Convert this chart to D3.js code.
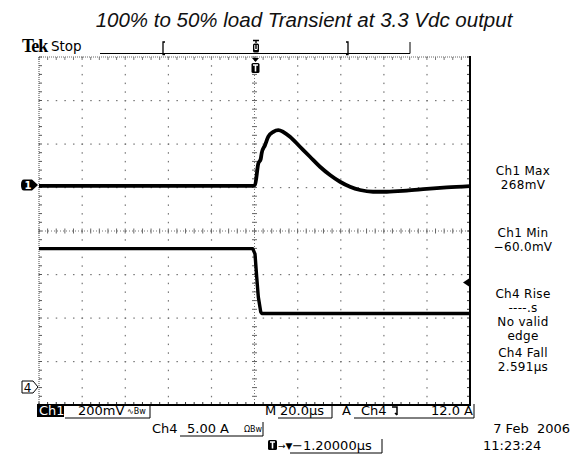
<!DOCTYPE html>
<html><head><meta charset="utf-8">
<script src="https://cdn.jsdelivr.net/npm/d3@7"></script>
<style>body{margin:0;background:#fff}svg{display:block}</style>
</head><body><svg id="c" width="571" height="457"></svg>
<script>
// ---- data ----
const title = "100% to 50% load Transient at 3.3 Vdc output";
// Ch1 : output voltage deviation (mV) vs time (µs, relative to screen centre)
const ch1Time = [-100, -60, -20, -1, 0.23, 1.76, 2.88, 3.34, 4.87, 6.4, 8.72, 11.04, 13.36, 16.47, 21.11, 25.75, 30.39, 35.03, 39.68, 44.32, 48.96, 55.0, 61.35, 70.6, 79.9, 89.2, 100];
const ch1mV   = [-4, -4, -4, -4, 0, 99, 119, 147, 183, 222, 244, 252, 244, 222, 176, 130, 84, 46, 15, -8, -23, -31, -31, -26, -18, -11, -5];
// Ch4 : load current (A) vs time (µs)
const ch4Time = [-100, -50, -0.84, 0.23, 1.02, 1.76, 2.88, 3.34, 50, 100];
const ch4Amp  = [15.9, 15.9, 15.9, 15.3, 12.65, 10.36, 8.64, 8.45, 8.45, 8.45];
const ch1Ground = 0, ch4Ground = 0, trigLevelA = 12.0;
const measureLabels = ["Ch1 Max","268mV","Ch1 Min","\u221260.0mV","Ch4 Rise","----.s","No valid","edge","Ch4 Fall","2.591\u00b5s"];
const bottomRow1 = {ch:"Ch1", scale:"200mV", time:"20.0\u00b5s", trig:"A  Ch4", lvl:"12.0 A"};
const bottomRow2 = {ch:"Ch4", scale:"5.00 A"};
const trigPos = "\u22121.20000\u00b5s";
const dateStr = "7 Feb  2006", timeStr = "11:23:24";

// ---- layout ----
const svg = d3.select("#c");
const X0 = 39, X1 = 470, Y0 = 57, Y1 = 405;
const DIV = (Y1 - Y0) / 8;
const x = d3.scaleLinear().domain([-100, 100]).range([X0, X1]);
const yd = d3.scaleLinear().domain([4, -4]).range([Y0, Y1]);           // divisions
const y1 = d3.scaleLinear().domain([0, 200]).range([185, 185 - DIV]);  // Ch1 200mV/div
const y4 = d3.scaleLinear().domain([0, 5]).range([387, 387 - DIV]);    // Ch4 5A/div
const FONT = "DejaVu Sans, sans-serif";

svg.append("rect").attr("width",571).attr("height",457).attr("fill","#fff");

// title
svg.append("text").attr("x",304).attr("y",27).attr("text-anchor","middle")
  .attr("font-family","Liberation Sans, Arial, sans-serif").attr("font-style","italic")
  .attr("font-size",20.5).attr("fill","#111").text(title);

// ---- graticule ----
const g = svg.append("g");
const minorT = d3.range(-100, 100.01, 4);
const minorD = d3.range(-4, 4.001, 0.2);
d3.range(-80, 81, 20).filter(t => t !== 0).forEach(t => {
  g.selectAll(null).data(minorD).join("rect")
    .attr("x", x(t) - 0.5).attr("y", d => yd(d) - 0.5).attr("width",1.2).attr("height",1.5).attr("fill","#777");
});
d3.range(-3, 3.01, 1).filter(d => d !== 0).forEach(dv => {
  g.selectAll(null).data(minorT).join("rect")
    .attr("x", t => x(t) - 0.5).attr("y", yd(dv) - 0.5).attr("width",1.5).attr("height",1.2).attr("fill","#777");
});
g.append("line").attr("x1",X0).attr("x2",X1).attr("y1",yd(0)).attr("y2",yd(0))
  .attr("stroke","#777").attr("stroke-dasharray","1,2");
g.selectAll(null).data(minorT).join("line")
  .attr("x1", t => x(t)).attr("x2", t => x(t)).attr("y1", yd(0) - 2.5).attr("y2", yd(0) + 2.5).attr("stroke","#666");
g.append("line").attr("x1",x(0)).attr("x2",x(0)).attr("y1",Y0).attr("y2",Y1)
  .attr("stroke","#777").attr("stroke-dasharray","1,2");
g.selectAll(null).data(minorD).join("line")
  .attr("y1", d => yd(d)).attr("y2", d => yd(d)).attr("x1", x(0) - 2.5).attr("x2", x(0) + 2.5).attr("stroke","#666");
g.append("line").attr("x1",X0).attr("x2",X1).attr("y1",Y0).attr("y2",Y0)
  .attr("stroke","#666").attr("stroke-dasharray","1,1");
g.selectAll(null).data(minorT).join("line")
  .attr("x1", t => x(t)).attr("x2", t => x(t)).attr("y1", Y0).attr("y2", Y0 + 3).attr("stroke","#777");
g.append("line").attr("x1",X0).attr("x2",X0).attr("y1",Y0).attr("y2",Y1)
  .attr("stroke","#444").attr("stroke-dasharray","1,1");
g.selectAll(null).data(minorD).join("line")
  .attr("y1", d => yd(d)).attr("y2", d => yd(d)).attr("x1", X0).attr("x2", X0 + 3).attr("stroke","#555");
g.selectAll(null).data(minorT).join("line")
  .attr("x1", t => x(t)).attr("x2", t => x(t)).attr("y1", Y1).attr("y2", Y1 - 3).attr("stroke","#333");
g.selectAll(null).data(minorD).join("line")
  .attr("y1", d => yd(d)).attr("y2", d => yd(d)).attr("x1", X1).attr("x2", X1 - 3).attr("stroke","#333");
g.append("line").attr("x1",X0).attr("x2",X1 + 1).attr("y1",Y1).attr("y2",Y1).attr("stroke","#000").attr("stroke-width",2);
g.append("line").attr("x1",X1).attr("x2",X1).attr("y1",Y0 - 1).attr("y2",Y1 + 1).attr("stroke","#000").attr("stroke-width",2);

// ---- traces ----
const line1 = d3.line().x((d,i) => x(ch1Time[i])).y(d => y1(d)).curve(d3.curveMonotoneX);
svg.append("path").attr("d", line1(ch1mV)).attr("fill","none").attr("stroke","#000")
  .attr("stroke-width",3.8).attr("stroke-linejoin","round");
const line4 = d3.line().x((d,i) => x(ch4Time[i])).y(d => y4(d));
svg.append("path").attr("d", line4(ch4Amp)).attr("fill","none").attr("stroke","#000")
  .attr("stroke-width",3.4).attr("stroke-linejoin","round");

// ---- markers ----
const m1y = y1(ch1Ground);
svg.append("path").attr("d", `M24,${m1y-5.5} H32 L38,${m1y} L32,${m1y+5.5} H24 Q21,${m1y+5.5} 21,${m1y} Q21,${m1y-5.5} 24,${m1y-5.5} Z`).attr("fill","#000");
svg.append("text").attr("x",28).attr("y",m1y+4).attr("text-anchor","middle").attr("font-family",FONT)
  .attr("font-weight","bold").attr("font-size",10).attr("fill","#fff").text("1");
const m4y = y4(ch4Ground);
svg.append("path").attr("d", `M22,${m4y-6} H33 L38,${m4y} L33,${m4y+6} H22 Z`).attr("fill","#fff").attr("stroke","#000").attr("stroke-width",1);
svg.append("text").attr("x",27.5).attr("y",m4y+4.5).attr("text-anchor","middle").attr("font-family",FONT)
  .attr("font-size",12).attr("fill","#000").text("4");
const tly = y4(trigLevelA);
svg.append("path").attr("d", `M463,${tly} L469,${tly-4} L469,${tly+4} Z`).attr("fill","#000");
const tx = x(0) + 1;
svg.append("path").attr("d", `M${tx-3.5},${Y0+1} H${tx+3.5} L${tx},${Y0+5} Z`).attr("fill","#000");
svg.append("rect").attr("x",tx-4).attr("y",Y0+6).attr("width",8).attr("height",10).attr("rx",1.5).attr("fill","#000");
svg.append("path").attr("d", `M${tx-2.5},${Y0+8} H${tx+2.5} M${tx},${Y0+8} V${Y0+14.5}`).attr("stroke","#fff").attr("stroke-width",1.6);

// ---- header: Tek Stop & record bar ----
svg.append("text").attr("x",22).attr("y",51.5).attr("font-family","Liberation Serif, serif").attr("font-weight","bold")
  .attr("font-size",18).attr("letter-spacing",-1).attr("fill","#000").text("Tek");
svg.append("text").attr("x",51).attr("y",51).attr("font-family",FONT)
  .attr("font-size",13.5).attr("fill","#000").text("Stop");
const barY = 53.5;
svg.append("path").attr("d", `M100,${barY} H410 V42`).attr("fill","none").attr("stroke","#000").attr("stroke-width",1);
svg.append("path").attr("d", `M165,42 H163 V${barY+1} H165`).attr("fill","none").attr("stroke","#000").attr("stroke-width",1.3);
svg.append("path").attr("d", `M346,42 H348 V${barY+1} H346`).attr("fill","none").attr("stroke","#000").attr("stroke-width",1.3);
svg.append("path").attr("d", `M253,40.5 H259 M256,40.5 V43`).attr("stroke","#000").attr("stroke-width",1.4);
svg.append("rect").attr("x",253).attr("y",43.5).attr("width",6).attr("height",9).attr("rx",1.5).attr("fill","#000");
svg.append("path").attr("d", `M254.8,45 V49.5 H257.2 V45`).attr("fill","none").attr("stroke","#fff").attr("stroke-width",1);

// ---- right-hand measurements ----
const measY = [170, 184, 232, 246, 293, 307, 321, 335, 352, 366];
svg.selectAll(null).data(measureLabels).join("text")
  .attr("x",523).attr("y",(d,i) => measY[i] + 4.5).attr("text-anchor","middle")
  .attr("font-family",FONT).attr("font-size",12).attr("letter-spacing",0.3).attr("fill","#000").text(d => d);

// ---- bottom status lines ----
const r1 = 415, r2 = 429, r3 = 450;
svg.append("rect").attr("x",37).attr("y",r1-11).attr("width",27).attr("height",13).attr("fill","#000");
svg.append("text").attr("x",39).attr("y",r1).attr("font-family",FONT).attr("font-size",13).attr("fill","#fff").text(bottomRow1.ch);
svg.append("text").attr("x",78).attr("y",r1).attr("font-family",FONT).attr("font-size",13).text(bottomRow1.scale);
svg.append("text").attr("x",127).attr("y",r1-1).attr("font-family",FONT).attr("font-size",8).text("\u223fBw");
svg.append("path").attr("d",`M65,${r1+3} H150 V${r1-11}`).attr("fill","none").attr("stroke","#000");
svg.append("text").attr("x",265).attr("y",r1).attr("font-family",FONT).attr("font-size",13).text("M");
svg.append("text").attr("x",280).attr("y",r1).attr("font-family",FONT).attr("font-size",13).text(bottomRow1.time);
svg.append("path").attr("d",`M278,${r1+3} H332 V${r1-11}`).attr("fill","none").attr("stroke","#000");
svg.append("text").attr("x",342).attr("y",r1).attr("font-family",FONT).attr("font-size",13).text("A");
svg.append("text").attr("x",361).attr("y",r1).attr("font-family",FONT).attr("font-size",13).text("Ch4");
svg.append("path").attr("d",`M392,${r1-8} H397 V${r1} M397,${r1} l-2,-2`).attr("fill","none").attr("stroke","#000").attr("stroke-width",1.5);
svg.append("text").attr("x",473).attr("y",r1).attr("text-anchor","end").attr("font-family",FONT).attr("font-size",13).text(bottomRow1.lvl);
svg.append("path").attr("d",`M354,${r1+3} H474 V${r1-11}`).attr("fill","none").attr("stroke","#000");

svg.append("text").attr("x",152).attr("y",r2+4).attr("font-family",FONT).attr("font-size",13).text(bottomRow2.ch);
svg.append("text").attr("x",187).attr("y",r2+4).attr("font-family",FONT).attr("font-size",13).text(bottomRow2.scale);
svg.append("text").attr("x",244).attr("y",r2+3).attr("font-family",FONT).attr("font-size",8).text("\u03a9Bw");
svg.append("path").attr("d",`M180,${r2+7} H263 V${r2-7}`).attr("fill","none").attr("stroke","#000");

svg.append("rect").attr("x",268).attr("y",r3-10).attr("width",9).attr("height",10).attr("rx",1.5).attr("fill","#000");
svg.append("path").attr("d",`M270,${r3-8} H275 M272.5,${r3-8} V${r3-1.5}`).attr("stroke","#fff").attr("stroke-width",1.6);
svg.append("text").attr("x",278).attr("y",r3-1).attr("font-family",FONT).attr("font-size",9).text("\u2192\u25bc");
svg.append("text").attr("x",292).attr("y",r3).attr("font-family",FONT).attr("font-size",13).text(trigPos);
svg.append("path").attr("d",`M290,${r3+3} H382 V${r3-11}`).attr("fill","none").attr("stroke","#000");

svg.append("text").attr("x",570).attr("y",r2+4).attr("text-anchor","end").attr("font-family",FONT).attr("font-size",13).attr("xml:space","preserve").text(dateStr);
svg.append("text").attr("x",483).attr("y",r3).attr("font-family",FONT).attr("font-size",13).text(timeStr);
</script></body></html>
